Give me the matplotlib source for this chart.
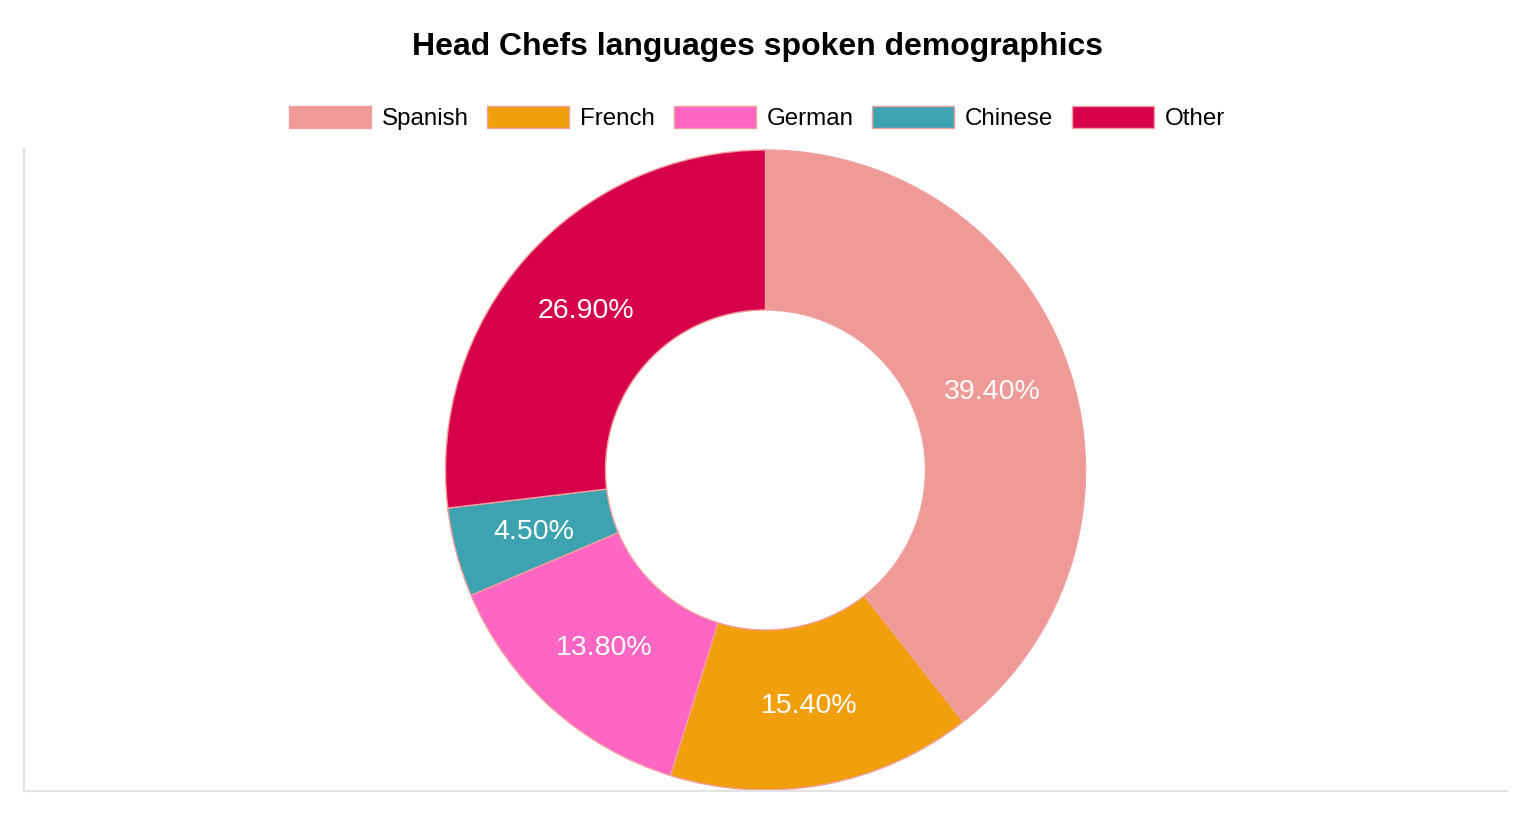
import matplotlib
matplotlib.use("Agg")
import matplotlib.pyplot as plt
from matplotlib.patches import Patch

languages = ["Spanish", "French", "German", "Chinese", "Other"]
shares = [39.4, 15.4, 13.8, 4.5, 26.9]
colors = ["#EF9A97", "#F29F0E", "#FF66C4", "#3DA3B0", "#D7004A"]
edge = "#F0A0A0"

W, H = 1532, 816
fig = plt.figure(figsize=(W / 100, H / 100), dpi=100)
plt.rcParams["font.family"] = ["Liberation Sans", "DejaVu Sans"]

ax_l, ax_r, ax_t, ax_b = 24, 1507, 149, 791
ax = fig.add_axes([ax_l / W, 1 - ax_b / H, (ax_r - ax_l) / W, (ax_b - ax_t) / H])

R = 320.0
half_h = (ax_b - ax_t) / 2 / R
half_w = (ax_r - ax_l) / 2 / R

wedges, texts, autotexts = ax.pie(
    shares, colors=colors, startangle=90, counterclock=False,
    radius=1.0, autopct="%.2f%%", pctdistance=0.75,
    wedgeprops=dict(width=0.5, edgecolor=edge, linewidth=1.0),
    textprops=dict(color="white", fontsize=20.5),
)
ax.set_frame_on(True)
ax.set_aspect("auto")
ax.set_xlim(-half_w, half_w)
ax.set_ylim(-half_h, half_h)
ax.set_xticks([])
ax.set_yticks([])
for s in ["top", "right"]:
    ax.spines[s].set_visible(False)
for s in ["left", "bottom"]:
    ax.spines[s].set_visible(True)
    ax.spines[s].set_color("#E3E3E3")
    ax.spines[s].set_linewidth(1.5)

fig.text(758 / W, 1 - 47 / H, "Head Chefs languages spoken demographics",
         ha="center", va="center", fontsize=23, fontweight="bold")

handles = [Patch(facecolor=c, edgecolor=edge, linewidth=1.0) for c in colors]
fig.legend(handles, languages, loc="center", bbox_to_anchor=(757 / W, 1 - 118 / H),
           ncol=5, frameon=False, fontsize=17.4, handlelength=3.39, handleheight=1.07,
           handletextpad=0.45, columnspacing=0.78)

fig.savefig("out.png", dpi=100)
